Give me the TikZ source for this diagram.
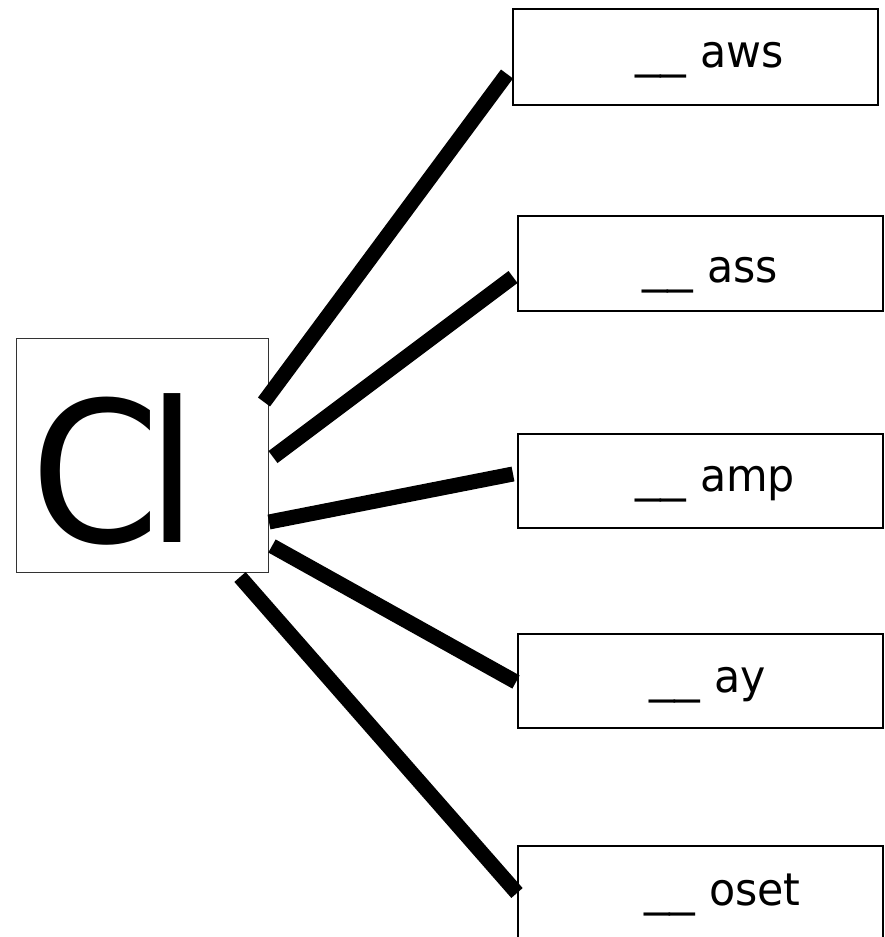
\documentclass[tikz,border=0pt]{standalone}
\usepackage{fontspec}
\setmainfont[FakeStretch=0.95]{DejaVu Sans}
\newcommand{\blank}{\scalebox{1.2}[1]{\_\_}}
\begin{document}
\begin{tikzpicture}[x=1pt,y=-1pt,
  wordbox/.style={draw=black, line width=1.5pt, minimum width=365pt, minimum height=95pt, inner sep=0pt, anchor=north west},
  word/.style={font=\fontsize{45pt}{50pt}\selectfont, anchor=base west, inner sep=0pt},
  conn/.style={line width=15pt, line cap=butt}]
\useasboundingbox (0,0) rectangle (885,937);
\clip (0,0) rectangle (885,937);
% central box
\node[draw=black!80, line width=1pt, minimum width=252pt, minimum height=234pt, inner sep=0pt, anchor=north west] (cl) at (16,338) {};
\node[font=\fontsize{196pt}{200pt}\selectfont, anchor=base west, inner sep=0pt] (cltext) at (30,542) {C\kern-14pt l};
% word boxes
\node[wordbox, minimum width=365pt, minimum height=96pt] (aws) at (512,8) {};
\node[wordbox] (ass) at (517,215) {};
\node[wordbox, minimum height=94pt] (amp) at (517,433) {};
\node[wordbox, minimum height=94pt] (ay) at (517,633) {};
\node[wordbox] (oset) at (517,845) {};
% labels
\node[word] (taws) at (635,67) {\blank{} aws};
\node[word] (tass) at (642,282) {\blank{} ass};
\node[word] (tamp) at (635,491) {\blank{} amp};
\node[word] (tay) at (649,692) {\blank{} ay};
\node[word] (toset) at (644,905) {\blank{} oset};
% connector end points
\coordinate (s1) at (264,402);
\coordinate (e1) at (507,74);
\coordinate (s2) at (273,457);
\coordinate (e2) at (513,277);
\coordinate (s3) at (269,522);
\coordinate (e3) at (513,474);
\coordinate (s4) at (272,546);
\coordinate (e4) at (516,682);
\coordinate (s5) at (240,577);
\coordinate (e5) at (517,893);
\draw[conn] (s1) -- (e1);
\draw[conn] (s2) -- (e2);
\draw[conn] (s3) -- (e3);
\draw[conn] (s4) -- (e4);
\draw[conn] (s5) -- (e5);
\end{tikzpicture}
\end{document}
